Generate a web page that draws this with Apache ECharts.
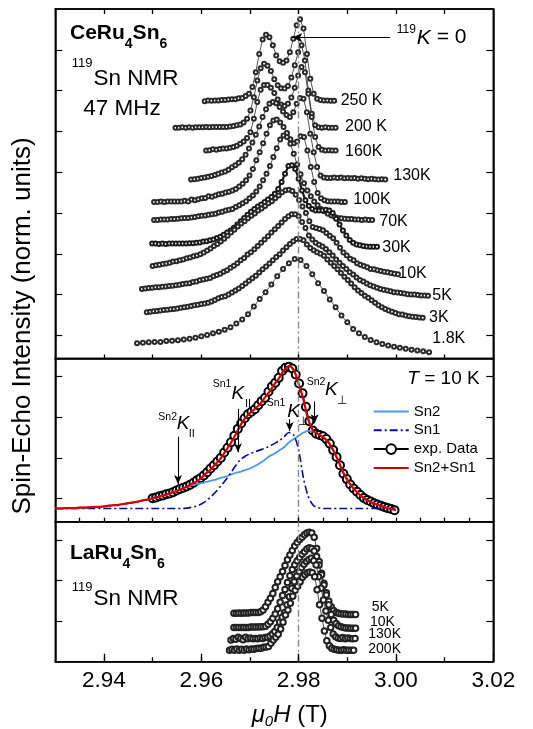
<!DOCTYPE html>
<html>
<head>
<meta charset="utf-8">
<script src="https://cdn.jsdelivr.net/npm/echarts@6/dist/echarts.min.js"></script>
<style>
html,body{margin:0;padding:0;background:#fff}
#chart{width:533px;height:729px}
</style>
</head>
<body>
<div id="chart"></div>
<script>
const FONT = '"Liberation Sans", Arial, Helvetica, sans-serif';

// Resonance field of the reference line, 119K = 0 (T)
const K0 = 2.9785;

// ---- CeRu4Sn6 spectra, stacked with offsets (field grid: start + i*step) ----
const STEP_TOP = 0.0007;
const x0_250K = 2.9607;
const y_250K = [5.74,5.76,5.75,5.76,5.76,5.77,5.77,5.78,5.79,5.79,5.81,5.82,5.87,5.92,6.09,6.45,6.90,7.25,7.37,7.31,7.11,6.86,6.72,6.68,6.74,6.94,7.27,7.60,7.75,7.52,6.90,6.29,5.92,5.80,5.77,5.76,5.76,5.75,5.75];
const x0_200K = 2.9547;
const y_200K = [5.09,5.09,5.10,5.09,5.10,5.09,5.10,5.10,5.10,5.11,5.10,5.11,5.11,5.11,5.11,5.11,5.12,5.13,5.15,5.17,5.22,5.31,5.51,5.84,6.25,6.55,6.66,6.61,6.48,6.28,6.13,6.06,6.05,6.11,6.32,6.62,6.94,7.11,6.74,6.00,5.43,5.15,5.10,5.09,5.10,5.09,5.09,5.09];
const x0_160K = 2.9610;
const y_160K = [4.53,4.54,4.56,4.55,4.57,4.58,4.58,4.60,4.62,4.65,4.70,4.75,4.84,4.98,5.31,5.72,6.02,6.14,6.14,6.07,5.94,5.78,5.66,5.62,5.68,5.83,6.07,6.37,6.58,6.45,5.92,5.35,4.86,4.62,4.55,4.53,4.54,4.53,4.53];
const x0_130K = 2.9579;
const y_130K = [3.82,3.83,3.84,3.86,3.87,3.89,3.91,3.93,3.96,3.99,4.02,4.06,4.12,4.17,4.23,4.32,4.43,4.58,4.73,4.92,5.12,5.35,5.54,5.68,5.72,5.69,5.60,5.49,5.40,5.35,5.47,5.68,5.82,5.80,5.47,4.94,4.49,4.13,3.92,3.87,3.86,3.86,3.87,3.86,3.87,3.85,3.86,3.85,3.86,3.84,3.85,3.84,3.83,3.84,3.83,3.82,3.83,3.82];
const x0_100K = 2.9503;
const y_100K = [3.27,3.27,3.28,3.27,3.28,3.28,3.28,3.28,3.28,3.30,3.28,3.33,3.31,3.34,3.36,3.37,3.41,3.40,3.43,3.46,3.47,3.50,3.52,3.55,3.59,3.65,3.72,3.80,3.92,4.08,4.29,4.49,4.71,4.94,5.15,5.27,5.29,5.22,5.11,4.96,4.81,4.71,4.75,4.88,4.86,4.53,4.13,3.76,3.49,3.36,3.31,3.29,3.28,3.28,3.28,3.27,3.27];
const x0_70K = 2.9503;
const y_70K = [2.83,2.83,2.84,2.84,2.84,2.85,2.85,2.86,2.87,2.88,2.88,2.89,2.90,2.92,2.93,2.94,2.96,2.97,2.98,3.01,3.03,3.06,3.08,3.10,3.15,3.19,3.24,3.29,3.36,3.43,3.53,3.65,3.80,3.96,4.15,4.37,4.59,4.80,4.90,4.86,4.70,4.45,4.19,3.95,3.73,3.55,3.41,3.28,3.19,3.10,3.04,2.98,2.94,2.91,2.88,2.87,2.86,2.85,2.85,2.84,2.84,2.83,2.84,2.83,2.83];
const x0_30K = 2.9499;
const y_30K = [2.25,2.25,2.24,2.25,2.24,2.25,2.25,2.25,2.25,2.25,2.25,2.26,2.26,2.27,2.28,2.30,2.31,2.33,2.35,2.39,2.42,2.47,2.52,2.57,2.64,2.72,2.80,2.88,2.96,3.03,3.10,3.16,3.21,3.27,3.33,3.39,3.47,3.59,3.76,3.96,4.15,4.17,4.08,3.84,3.55,3.31,3.17,3.10,3.06,3.06,3.06,3.08,3.06,3.00,2.86,2.72,2.57,2.45,2.34,2.27,2.23,2.21,2.19,2.18,2.17,2.17,2.17];
const x0_10K = 2.9500;
const y_10K = [1.70,1.72,1.73,1.75,1.76,1.78,1.81,1.82,1.84,1.86,1.89,1.91,1.94,1.96,1.99,2.03,2.08,2.13,2.19,2.24,2.30,2.37,2.44,2.52,2.59,2.67,2.74,2.80,2.87,2.93,2.99,3.06,3.11,3.17,3.24,3.29,3.36,3.43,3.51,3.56,3.57,3.54,3.45,3.32,3.16,3.00,2.80,2.66,2.63,2.61,2.58,2.51,2.44,2.38,2.27,2.15,2.03,1.96,1.88,1.84,1.77,1.73,1.70,1.67,1.63,1.62,1.60,1.58,1.56,1.55,1.53,1.51,1.50];
const x0_5K = 2.9478;
const y_5K = [1.14,1.15,1.16,1.17,1.18,1.18,1.19,1.20,1.21,1.22,1.23,1.24,1.26,1.27,1.28,1.31,1.32,1.35,1.37,1.39,1.41,1.45,1.48,1.51,1.56,1.60,1.66,1.71,1.77,1.84,1.90,1.98,2.04,2.11,2.19,2.27,2.35,2.43,2.52,2.60,2.68,2.77,2.85,2.92,2.97,2.97,2.92,2.78,2.63,2.45,2.35,2.27,2.22,2.18,2.12,2.04,1.96,1.86,1.78,1.70,1.63,1.55,1.49,1.42,1.36,1.32,1.27,1.23,1.20,1.17,1.14,1.12,1.10,1.08,1.06,1.05,1.04,1.03,1.01,1.00,1.00,0.99,0.98,0.98,0.97];
const x0_3K = 2.9488;
const y_3K = [0.57,0.58,0.59,0.60,0.61,0.62,0.63,0.64,0.65,0.66,0.68,0.69,0.70,0.72,0.74,0.75,0.77,0.78,0.80,0.83,0.87,0.91,0.94,0.96,1.00,1.05,1.10,1.15,1.21,1.27,1.34,1.40,1.46,1.54,1.62,1.69,1.76,1.84,1.92,1.99,2.08,2.16,2.24,2.31,2.36,2.36,2.33,2.23,2.14,2.09,2.04,2.00,1.95,1.86,1.78,1.70,1.62,1.53,1.44,1.36,1.27,1.18,1.10,1.04,0.97,0.92,0.86,0.80,0.74,0.69,0.65,0.61,0.58,0.55,0.52,0.51,0.49,0.47,0.46,0.45,0.44,0.43];
const STEP_1p8K = 0.0012;
const x0_1p8K = 2.9468;
const y_1p8K = [-0.19,-0.18,-0.17,-0.16,-0.16,-0.14,-0.13,-0.12,-0.10,-0.08,-0.06,-0.02,0.01,0.05,0.09,0.14,0.20,0.29,0.39,0.52,0.71,0.89,1.06,1.25,1.45,1.63,1.77,1.87,1.85,1.70,1.50,1.28,1.09,0.88,0.69,0.49,0.32,0.16,0.05,-0.04,-0.11,-0.17,-0.21,-0.25,-0.28,-0.30,-0.33,-0.35,-0.37,-0.39,-0.41];

const topLabels = ['250 K','200 K','160K','130K','100K','70K','30K','10K','5K','3K','1.8K'];

// ---- T = 10 K spectrum with the two-site decomposition ----
const x0_exp = 2.9500, STEP_EXP = 0.0007;
const y_exp = [0.01,0.03,0.06,0.08,0.11,0.13,0.16,0.20,0.24,0.27,0.30,0.34,0.39,0.45,0.50,0.57,0.65,0.74,0.82,0.91,1.00,1.13,1.25,1.38,1.54,1.71,1.85,1.97,2.07,2.13,2.19,2.29,2.39,2.47,2.62,2.75,2.84,2.96,3.13,3.21,3.23,3.19,3.04,2.82,2.58,2.25,1.90,1.67,1.59,1.56,1.53,1.46,1.35,1.19,1.02,0.82,0.61,0.48,0.35,0.25,0.17,0.09,0.02,-0.03,-0.07,-0.11,-0.14,-0.17,-0.20,-0.23,-0.25,-0.28];
const x0_fit = 2.930, STEP_FIT = 0.001;
const y_sum = [-0.24,-0.24,-0.23,-0.23,-0.23,-0.22,-0.22,-0.21,-0.20,-0.20,-0.19,-0.17,-0.16,-0.15,-0.13,-0.11,-0.09,-0.07,-0.04,-0.02,0.01,0.04,0.07,0.11,0.15,0.19,0.24,0.29,0.36,0.42,0.51,0.62,0.73,0.86,0.99,1.17,1.35,1.56,1.79,1.97,2.10,2.20,2.31,2.47,2.62,2.80,2.96,3.15,3.25,3.15,2.82,2.42,1.93,1.66,1.58,1.51,1.40,1.21,0.97,0.68,0.46,0.29,0.16,0.05,-0.03,-0.09,-0.14,-0.18,-0.22,-0.25,-0.28];
const y_sn2 = [-0.24,-0.24,-0.23,-0.23,-0.23,-0.22,-0.22,-0.21,-0.20,-0.20,-0.19,-0.17,-0.16,-0.15,-0.13,-0.11,-0.09,-0.07,-0.04,-0.02,0.01,0.04,0.07,0.11,0.15,0.19,0.24,0.29,0.33,0.36,0.38,0.41,0.44,0.47,0.51,0.54,0.59,0.63,0.66,0.70,0.74,0.80,0.87,0.95,1.04,1.10,1.18,1.26,1.38,1.46,1.54,1.62,1.66,1.64,1.58,1.51,1.40,1.21,0.97,0.68,0.46,0.29,0.16,0.05,-0.03,-0.09,-0.14,-0.18,-0.22,-0.25,-0.28];
const y_sn1 = [-0.24,-0.24,-0.24,-0.24,-0.24,-0.24,-0.24,-0.24,-0.24,-0.24,-0.24,-0.24,-0.24,-0.24,-0.24,-0.24,-0.24,-0.24,-0.24,-0.24,-0.24,-0.24,-0.24,-0.24,-0.24,-0.24,-0.24,-0.23,-0.21,-0.18,-0.13,-0.05,0.05,0.17,0.31,0.46,0.62,0.80,0.95,1.04,1.10,1.15,1.19,1.23,1.29,1.35,1.42,1.52,1.62,1.56,1.19,0.50,0.05,-0.16,-0.22,-0.24,-0.24,-0.24,-0.24,-0.24,-0.24,-0.24,-0.24,-0.24,-0.24,-0.24,-0.24,-0.24,-0.24,-0.24,-0.24];

// Shift markers: [field, arrow top, arrow tip]
const shiftArrows = [[2.95521,1.52,0.36],[2.96753,2.20,1.14],[2.97815,1.95,1.66],[2.98329,2.38,1.85]];

// ---- LaRu4Sn6 reference spectra ----
const STEP_LA = 0.0005;
const x0_La5K = 2.9667;
const y_La5K = [0.19,0.19,0.20,0.19,0.20,0.20,0.20,0.21,0.21,0.21,0.21,0.23,0.27,0.35,0.46,0.56,0.68,0.83,0.97,1.09,1.22,1.37,1.51,1.63,1.74,1.85,1.94,2.01,2.07,2.13,2.17,2.19,2.17,2.07,1.79,1.47,1.18,0.93,0.70,0.49,0.35,0.26,0.21,0.19,0.18,0.17,0.17,0.16,0.16,0.16,0.16];
const x0_La10K = 2.9667;
const y_La10K = [-0.16,-0.16,-0.16,-0.16,-0.16,-0.16,-0.16,-0.15,-0.15,-0.15,-0.15,-0.14,-0.14,-0.13,-0.08,-0.02,0.07,0.17,0.30,0.46,0.63,0.78,0.95,1.12,1.27,1.39,1.49,1.57,1.65,1.71,1.78,1.81,1.79,1.73,1.59,1.38,1.14,0.89,0.64,0.40,0.16,0.02,-0.06,-0.12,-0.14,-0.16,-0.17,-0.17,-0.18,-0.18,-0.18];
const x0_La130K = 2.9661;
const y_La130K = [-0.47,-0.43,-0.45,-0.40,-0.43,-0.46,-0.40,-0.44,-0.42,-0.44,-0.43,-0.44,-0.42,-0.43,-0.41,-0.40,-0.37,-0.32,-0.26,-0.16,-0.03,0.09,0.21,0.40,0.60,0.81,0.97,1.11,1.22,1.32,1.40,1.47,1.52,1.55,1.49,1.38,1.09,0.81,0.52,0.25,0.02,-0.16,-0.32,-0.39,-0.42,-0.43,-0.41,-0.44,-0.42,-0.43,-0.44,-0.43];
const x0_La200K = 2.9658;
const y_La200K = [-0.72,-0.70,-0.72,-0.69,-0.72,-0.70,-0.72,-0.69,-0.71,-0.69,-0.70,-0.68,-0.67,-0.67,-0.65,-0.64,-0.63,-0.55,-0.47,-0.40,-0.33,-0.20,-0.03,0.15,0.27,0.44,0.61,0.76,0.86,0.97,1.08,1.14,1.19,1.21,1.19,1.09,0.77,0.40,0.07,-0.25,-0.49,-0.61,-0.67,-0.70,-0.71,-0.72,-0.72,-0.71,-0.72,-0.72,-0.72,-0.72];
const bottomLabels = ['5K','10K','130K','200K'];

// Field axis ticks
const fieldLabels = [2.94, 2.96, 2.98, 3.00, 3.02];
const fieldTicks = [2.94, 2.95, 2.96, 2.97, 2.98, 2.99, 3.00, 3.01];
const fieldFineTicks = [2.935, 2.94, 2.945, 2.95, 2.955, 2.96, 2.965, 2.97, 2.975, 2.98, 2.985, 2.99, 2.995, 3.00, 3.005, 3.01, 3.015];

// Intensity ranges of the three panels
const TOP_MIN = -0.566, TOP_MAX = 8;
const MID_MIN = -0.563, MID_MAX = 3.434;
const BOT_MIN = -1.005, BOT_MAX = 2.452;

// ------------------------------------------------------------------
function pts(x0, step, ys) {
  return ys.map((v, i) => [Math.round((x0 + i * step) * 1e6) / 1e6, v]);
}

const mctx = document.createElement('canvas').getContext('2d');
function tw(t, s, b, it) {
  mctx.font = (it ? 'italic ' : '') + (b ? 'bold ' : '') + s + 'px ' + FONT;
  return mctx.measureText(t).width;
}
function txt(x, y, t, s, o) {
  o = o || {};
  return {
    type: 'text', x: x, y: y, silent: true, z: 100, rotation: o.rot || 0,
    style: {
      text: t, fontSize: s, fontFamily: FONT,
      fontWeight: o.b ? 'bold' : 'normal', fontStyle: o.i ? 'italic' : 'normal',
      fill: '#000', textAlign: o.align || 'left', textVerticalAlign: 'middle'
    }
  };
}
function run(x, y, parts) {
  const out = [];
  let cx = x;
  parts.forEach(p => {
    cx += p.dx || 0;
    out.push(txt(cx, y + (p.dy || 0), p.t, p.s, p));
    cx += tw(p.t, p.s, p.b, p.i);
  });
  return out;
}

const chart = echarts.init(document.getElementById('chart'), null, {renderer: 'canvas'});

const tickStyle = {color: '#000', width: 1.2};
const frameLine = {show: true, onZero: false, lineStyle: {color: '#000', width: 1.5}};
function fieldAxis(grid, pos, extra) {
  return Object.assign({
    type: 'value', gridIndex: grid, position: pos, min: 2.93, max: 3.02,
    axisLine: frameLine, splitLine: {show: false},
    axisLabel: {show: false}, axisTick: {show: false}
  }, extra || {});
}
function intensityAxis(grid, pos, min, max, ticks) {
  return {
    type: 'value', gridIndex: grid, position: pos, min: min, max: max,
    axisLine: frameLine, splitLine: {show: false}, axisLabel: {show: false},
    axisTick: {show: true, inside: true, length: 7, lineStyle: tickStyle, customValues: ticks}
  };
}

// Reference-line and field-tick segments, drawn in each panel's data coordinates
const dashStyle = {color: '#8a8a8a', width: 1.4, type: [7, 3, 2, 3]};
const tickLineStyle = {color: '#000', width: 1.3, type: 'solid'};
function tickSegs(values, yEdge, len) {
  return values.map(v => [
    {coord: [v, yEdge], symbol: 'none', lineStyle: tickLineStyle},
    {coord: [v, yEdge + len], symbol: 'none'}
  ]);
}
function panelMarks(extraData) {
  return {
    silent: true, symbol: ['none', 'none'], label: {show: false}, emphasis: {disabled: true},
    data: [{xAxis: K0, lineStyle: dashStyle}].concat(extraData)
  };
}

function specSeries(name, x0, step, ys, extra) {
  return Object.assign({
    type: 'line', name: name, xAxisIndex: 0, yAxisIndex: 0,
    data: pts(x0, step, ys),
    symbol: 'emptyCircle', symbolSize: 4, showAllSymbol: true,
    lineStyle: {color: '#2a2a2a', width: 0.8},
    itemStyle: {color: '#2a2a2a', borderColor: '#2a2a2a', borderWidth: 0.8},
    silent: true, z: 2, animation: false
  }, extra || {});
}
function laSeries(name, x0, ys) {
  return {
    type: 'line', name: name, xAxisIndex: 3, yAxisIndex: 4,
    data: pts(x0, STEP_LA, ys),
    symbol: 'emptyCircle', symbolSize: 5.5, showAllSymbol: true,
    lineStyle: {color: '#222', width: 0.8},
    itemStyle: {color: '#222', borderColor: '#222', borderWidth: 1},
    silent: true, z: 2, animation: false
  };
}

const series = [
  specSeries('250 K', x0_250K, STEP_TOP, y_250K, {
    markLine: panelMarks([
      [{coord: [K0 + 0.0002, 7.30], symbol: 'arrow', symbolSize: [7, 10], lineStyle: {color: '#000', width: 1.2, type: 'solid'}},
       {coord: [2.99876, 7.30], symbol: 'none'}]
    ].concat(tickSegs(fieldTicks, TOP_MIN, 0.098), tickSegs(fieldTicks, TOP_MAX, -0.1225)))
  }),
  specSeries('200 K', x0_200K, STEP_TOP, y_200K),
  specSeries('160K', x0_160K, STEP_TOP, y_160K),
  specSeries('130K', x0_130K, STEP_TOP, y_130K),
  specSeries('100K', x0_100K, STEP_TOP, y_100K),
  specSeries('70K', x0_70K, STEP_TOP, y_70K),
  specSeries('30K', x0_30K, STEP_TOP, y_30K, {
    lineStyle: {color: '#1a1a1a', width: 2.2},
    itemStyle: {color: '#1a1a1a', borderColor: '#1a1a1a', borderWidth: 1.1}
  }),
  specSeries('10K', x0_10K, STEP_TOP, y_10K),
  specSeries('5K', x0_5K, STEP_TOP, y_5K),
  specSeries('3K', x0_3K, STEP_TOP, y_3K),
  specSeries('1.8K', x0_1p8K, STEP_1p8K, y_1p8K),

  {
    type: 'line', name: 'exp. Data', xAxisIndex: 2, yAxisIndex: 2,
    data: pts(x0_exp, STEP_EXP, y_exp),
    symbol: 'emptyCircle', symbolSize: 8, showAllSymbol: true,
    lineStyle: {color: '#000', width: 1},
    itemStyle: {color: '#000', borderColor: '#000', borderWidth: 1},
    silent: true, z: 2, animation: false,
    markLine: panelMarks(tickSegs(fieldFineTicks, MID_MIN, 0.098))
  },
  {
    type: 'line', name: 'Sn2', xAxisIndex: 2, yAxisIndex: 2,
    data: pts(x0_fit, STEP_FIT, y_sn2), symbol: 'none', smooth: 0.3,
    lineStyle: {color: '#4a98e8', width: 1.8}, itemStyle: {color: '#4a98e8'},
    silent: true, z: 3, animation: false
  },
  {
    type: 'line', name: 'Sn1', xAxisIndex: 2, yAxisIndex: 2,
    data: pts(x0_fit, STEP_FIT, y_sn1), symbol: 'none', smooth: 0.3,
    lineStyle: {color: '#0a0aa0', width: 1.6, type: [8, 3, 2, 3]}, itemStyle: {color: '#0a0aa0'},
    silent: true, z: 3, animation: false,
    markLine: {
      silent: true, symbol: ['none', 'arrow'], symbolSize: [6, 9], label: {show: false},
      emphasis: {disabled: true},
      lineStyle: {color: '#000', width: 1.1, type: 'solid'},
      data: shiftArrows.map(a => [{coord: [a[0], a[1]]}, {coord: [a[0], a[2]]}])
    }
  },
  {
    type: 'line', name: 'Sn2+Sn1', xAxisIndex: 2, yAxisIndex: 2,
    data: pts(x0_fit, STEP_FIT, y_sum), symbol: 'none', smooth: 0.3,
    lineStyle: {color: '#d40000', width: 2.2}, itemStyle: {color: '#d40000'},
    silent: true, z: 4, animation: false
  },

  Object.assign(laSeries('La 5K', x0_La5K, y_La5K), {
    markLine: panelMarks(tickSegs(fieldTicks, BOT_MIN, 0.111).concat(tickSegs(fieldLabels, BOT_MIN, 0.1975)))
  }),
  laSeries('La 10K', x0_La10K, y_La10K),
  laSeries('La 130K', x0_La130K, y_La130K),
  laSeries('La 200K', x0_La200K, y_La200K)
];

// ---- text overlays ----
const graphics = [];
const topPos = [[340.7,100.7],[345,126.7],[345,151.7],[393.3,175.7],[353.3,200],[379.3,221.7],[382.3,247.7],[398.3,274],[432.3,295.7],[429,318],[432.3,339]];
topLabels.forEach((t, i) => graphics.push(txt(topPos[i][0], topPos[i][1], t, 16)));
const botPos = [[371.7,606.7],[370,621.7],[368.3,634],[368.3,649]];
bottomLabels.forEach((t, i) => graphics.push(txt(botPos[i][0], botPos[i][1], t, 14)));

graphics.push(...run(70, 33.3, [
  {t: 'CeRu', s: 21, b: true}, {t: '4', s: 14, b: true, dy: 10.5},
  {t: 'Sn', s: 21, b: true}, {t: '6', s: 14, b: true, dy: 10.5}
]));
graphics.push(...run(71.7, 78.3, [{t: '119', s: 13, dy: -15}, {t: 'Sn NMR', s: 22.5, dx: 1}]));
graphics.push(txt(83.3, 108.3, '47 MHz', 22.5));
graphics.push(...run(396.7, 37.7, [{t: '119', s: 12, dy: -8}, {t: 'K', s: 21, i: true, dx: 1}, {t: ' = 0', s: 21}]));

graphics.push(...run(70, 553.3, [
  {t: 'LaRu', s: 21, b: true}, {t: '4', s: 14, b: true, dy: 10.5},
  {t: 'Sn', s: 21, b: true}, {t: '6', s: 14, b: true, dy: 10.5}
]));
graphics.push(...run(71.7, 598.3, [{t: '119', s: 13, dy: -11}, {t: 'Sn NMR', s: 22.5, dx: 1}]));

graphics.push(...run(407.3, 379, [{t: 'T', s: 19, i: true}, {t: ' = 10 K', s: 19}]));

// shift labels in the T = 10 K panel
graphics.push(txt(158.3, 417.5, 'Sn2', 10.5));
graphics.push(txt(176.7, 424, 'K', 19, {i: true}));
graphics.push(txt(188.8, 434, 'II', 11));
graphics.push(txt(212.7, 384, 'Sn1', 10.5));
graphics.push(txt(231.5, 393.5, 'K', 19, {i: true}));
graphics.push(txt(245, 404, 'II', 11));
graphics.push(txt(266.7, 403.5, 'Sn1', 10.5));
graphics.push(txt(287.3, 411.5, 'K', 19, {i: true}));
graphics.push(txt(297.5, 421.5, '\u22A5', 12));
graphics.push(txt(306.7, 381.7, 'Sn2', 10.5));
graphics.push(txt(325, 389.5, 'K', 19, {i: true}));
graphics.push(txt(337, 401, '\u22A5', 12));

// axis titles
graphics.push(txt(23, 326, 'Spin-Echo Intensity (norm. units)', 26, {align: 'center', rot: Math.PI / 2}));
graphics.push(...run(251.7, 715, [
  {t: '\u03BC', s: 24, i: true}, {t: '0', s: 15, i: true, dy: 7},
  {t: 'H', s: 24, i: true}, {t: ' (T)', s: 24}
]));

const gridBase = {left: 55.3, width: 438, show: true, borderColor: '#000', borderWidth: 1.5, backgroundColor: 'transparent', outerBoundsMode: 'none', containLabel: false};

chart.setOption({
  animation: false,
  backgroundColor: '#fff',
  textStyle: {fontFamily: FONT},
  grid: [
    Object.assign({top: 9, height: 349.5}, gridBase),
    Object.assign({top: 358.5, height: 163.2}, gridBase),
    Object.assign({top: 521.7, height: 140}, gridBase)
  ],
  xAxis: [
    fieldAxis(0, 'bottom'),
    fieldAxis(0, 'top'),
    fieldAxis(1, 'bottom'),
    fieldAxis(2, 'bottom', {
      axisLabel: {show: true, customValues: fieldLabels, formatter: v => v.toFixed(2),
        color: '#000', fontSize: 22.5, fontFamily: FONT, margin: 8}
    })
  ],
  yAxis: [
    intensityAxis(0, 'left', TOP_MIN, TOP_MAX, [0,1,2,3,4,5,6,7]),
    intensityAxis(0, 'right', TOP_MIN, TOP_MAX, [0,1,2,3,4,5,6,7]),
    intensityAxis(1, 'left', MID_MIN, MID_MAX, [0,1,2,3]),
    intensityAxis(1, 'right', MID_MIN, MID_MAX, [0,1,2,3]),
    intensityAxis(2, 'left', BOT_MIN, BOT_MAX, [0,1,2]),
    intensityAxis(2, 'right', BOT_MIN, BOT_MAX, [0,1,2])
  ],
  legend: {
    data: [
      {name: 'Sn2', itemStyle: {opacity: 0}},
      {name: 'Sn1', itemStyle: {opacity: 0}},
      {name: 'exp. Data'},
      {name: 'Sn2+Sn1', itemStyle: {opacity: 0}}
    ],
    orient: 'vertical', left: 372.7, top: 404,
    itemWidth: 35, itemHeight: 12, itemGap: 3.8,
    selectedMode: false,
    textStyle: {color: '#000', fontSize: 15, fontFamily: FONT, lineHeight: 15},
    backgroundColor: 'transparent', borderWidth: 0, padding: 0
  },
  series: series,
  graphic: {elements: graphics}
});
</script>
</body>
</html>
